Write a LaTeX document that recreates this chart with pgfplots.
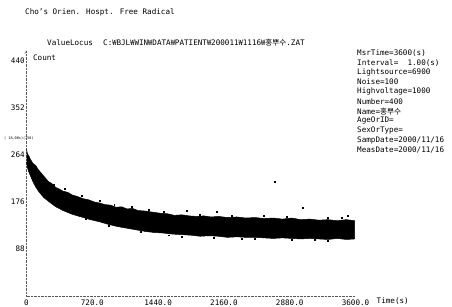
\documentclass[border=0pt]{standalone}
\usepackage{pgfplots}
\pgfplotsset{compat=1.18}
\usepackage{fontspec}
\setmainfont{DejaVu Sans Mono}
\newfontfamily\kr{Noto Sans CJK KR}
\begin{document}
\begin{tikzpicture}[x=1pt,y=1pt]
\path[use as bounding box] (0,0) rectangle (452,306);
\fontsize{7.6}{9}\selectfont
% header texts
\node[anchor=west,inner sep=0] at (25,294) {Cho's Orien. Hospt. Free Radical};
\node[anchor=west,inner sep=0] at (47,263) {ValueLocus};
\node[anchor=west,inner sep=0] at (103,263) {C:{\kr ₩}BJL{\kr ₩}WIN{\kr ₩}DATA{\kr ₩}PATIENT{\kr ₩}200011{\kr ₩}1116{\kr ₩}{\kr 홍뿌수}.ZAT};
% info block
\foreach \t [count=\i from 0] in {MsrTime=3600(s),Interval=~~1.00(s),Lightsource=6900,Noise=100,Highvoltage=1000,Number=400,{Name={\kr 홍뿌수}},AgeOrID=,SexOrType=,SampDate=2000/11/16,MeasDate=2000/11/16}{
  \node[anchor=west,inner sep=0] at (357,{306-53-9.7*\i}) {\t};
}
\node[anchor=west,inner sep=0,font=\fontsize{3.5}{4}\selectfont] at (4,168) {( 18.00s)(258)};
\begin{axis}[
  at={(29,18)}, anchor=origin,
  scale only axis, width=329pt, height=236pt,
  xmin=0, xmax=3600, ymin=0, ymax=440,
  axis lines=left, axis line style={draw=none}, clip=false,
  xtick={0,720,1440,2160,2880,3600},
  xticklabels={0,720.0,1440.0,2160.0,2880.0,3600.0},
  ytick={88,176,264,352,440},
  yticklabels={88,176,264,352,440},
  tick style={draw=none},
  /pgf/number format/assume math mode=true,
  ticklabel style={font=\fontsize{7.6}{9}\selectfont, inner sep=1pt},
  xticklabel style={anchor=north, inner sep=0pt, yshift=-1pt},
  yticklabel style={anchor=east, xshift=1.5pt},
]
\draw[densely dotted, gray!70!black] (axis cs:0,0) -- (axis cs:0,458);
\draw[densely dotted, gray!70!black] (axis cs:0,0) -- (axis cs:3600,0);
\draw[gray!70!black] (axis cs:0,458) -- (axis cs:-20,452);
\node[anchor=west,inner sep=0] at (axis cs:70,444) {Count};
\node[anchor=north west,inner sep=0pt,yshift=-1pt,xshift=21pt] at (axis cs:3600,0) {Time(s)};
% band of measured points: upper edge left to right, lower edge right to left
\addplot[fill=black, draw=black, line width=0.5pt] table {
0 274
10 266
25 262
45 255
70 248
100 244
130 236
160 230
200 222
240 214
280 210
320 203
360 200
400 196
450 194
500 189
560 186
620 182
680 180
740 176
800 174
860 171
920 170
980 166
1040 167
1100 163
1160 164
1220 160
1300 159
1380 157
1460 155
1540 154
1620 151
1700 152
1780 150
1860 149
1940 150
2020 148
2100 149
2200 147
2300 148
2400 146
2500 147
2600 145
2700 146
2800 144
2900 146
3000 143
3100 144
3200 142
3300 143
3400 141
3500 143
3590 141
3590 107
3500 106
3400 108
3300 106
3200 107
3100 108
3000 107
2900 108
2800 109
2700 108
2600 109
2500 110
2400 110
2300 111
2200 110
2100 112
2000 113
1900 112
1800 114
1700 115
1600 116
1500 118
1400 119
1300 121
1200 124
1100 127
1000 130
900 134
800 139
700 143
600 148
500 153
400 160
320 167
250 176
190 184
140 194
100 204
70 214
45 224
25 232
10 240
0 250
};
% scattered points outside the dense band
\addplot[only marks, mark=square*, mark size=0.45pt, black] table {
1750 160
2078 158
2717 213
3020 166
3510 150
1340 161
800 178
1150 167
600 188
420 200
300 208
960 171
1500 157
1900 153
2250 151
2600 150
2850 149
3300 146
3450 146
1560 114
2500 107
2900 105
3300 104
2050 110
1250 121
900 131
650 145
3150 105
2350 108
1700 112
};
\end{axis}
\end{tikzpicture}
\end{document}
